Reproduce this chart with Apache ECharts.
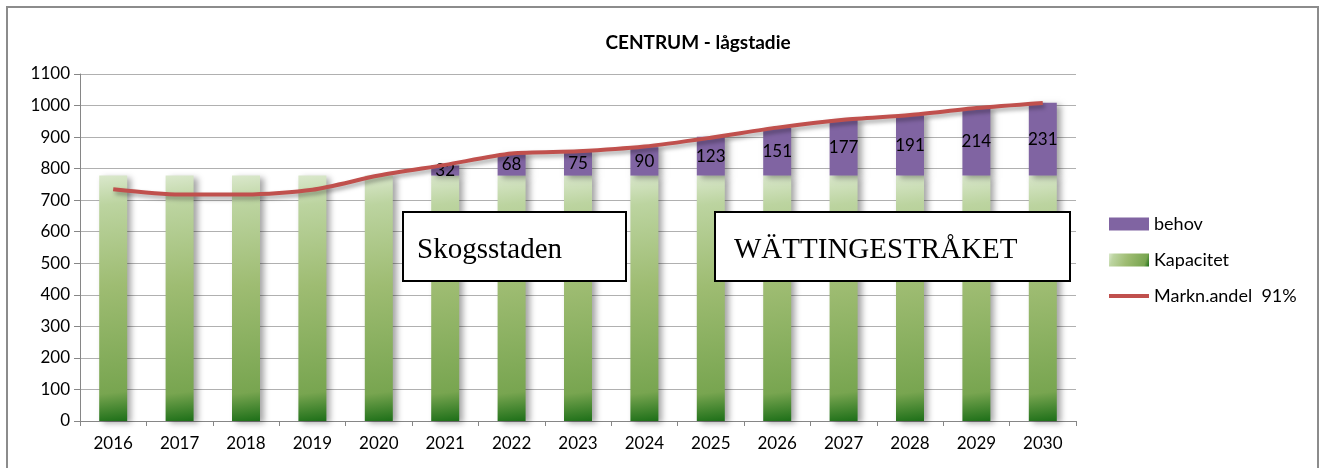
<!DOCTYPE html>
<html>
<head>
<meta charset="utf-8">
<script src="https://cdn.jsdelivr.net/npm/echarts@6/dist/echarts.min.js"></script>
<style>
html, body { margin: 0; padding: 0; background: #fff; }
#main { width: 1327px; height: 468px; }
</style>
</head>
<body>
<div id="main"></div>
<script>
// data
var years = ['2016', '2017', '2018', '2019', '2020', '2021', '2022', '2023', '2024', '2025', '2026', '2027', '2028', '2029', '2030'];
var kapacitet = [778, 778, 778, 778, 778, 778, 778, 778, 778, 778, 778, 778, 778, 778, 778];
var behov = [null, null, null, null, null, 32, 68, 75, 90, 123, 151, 177, 191, 214, 231];
var marknAndel = [735, 718, 718, 733, 778, 812, 848, 855, 870, 898, 930, 955, 970, 992, 1008];
var yTicks = { min: 0, max: 1100, interval: 100 };

var chart = echarts.init(document.getElementById('main'));

var font = 'Lato, "Open Sans", sans-serif';
var serif = '"Liberation Serif", "DejaVu Serif", serif';
var greenFill = new echarts.graphic.LinearGradient(0, 0, 1, 1, [
    {offset: 0, color: '#dae8cc'},
    {offset: 0.12, color: '#bcd4a0'},
    {offset: 0.45, color: '#9ebc72'},
    {offset: 0.88, color: '#78a550'},
    {offset: 1, color: '#1d6f18'}
]);
var barShadow = {
    shadowColor: 'rgba(0,0,0,0.35)',
    shadowBlur: 6,
    shadowOffsetX: 4,
    shadowOffsetY: 2
};

chart.setOption({
    animation: false,
    title: {
        text: 'CENTRUM - lågstadie',
        left: 693,
        textAlign: 'center',
        top: 28,
        textStyle: {fontFamily: font, fontSize: 19, fontWeight: 'bold', color: '#000'}
    },
    grid: {left: 80, right: 251, top: 74, bottom: 47},
    legend: {
        orient: 'vertical',
        left: 1102,
        top: 210,
        itemWidth: 40,
        itemHeight: 13,
        itemGap: 18,
        data: [
            {name: 'behov', icon: 'rect'},
            {name: 'Kapacitet', icon: 'rect'},
            {name: 'Markn.andel  91%', itemStyle: {opacity: 0}, lineStyle: {width: 4}}
        ],
        textStyle: {fontFamily: font, fontSize: 18, color: '#000'}
    },
    xAxis: {
        type: 'category',
        data: years,
        axisLine: {lineStyle: {color: '#868686', width: 1}},
        axisTick: {show: true, length: 5, lineStyle: {color: '#868686'}},
        axisLabel: {fontFamily: font, fontSize: 17, color: '#000', margin: 14}
    },
    yAxis: {
        type: 'value',
        min: yTicks.min,
        max: yTicks.max,
        interval: yTicks.interval,
        axisLine: {show: true, lineStyle: {color: '#868686'}},
        axisTick: {show: true, length: 6, lineStyle: {color: '#868686'}},
        splitLine: {lineStyle: {color: '#b0b0b0'}},
        axisLabel: {
            fontFamily: font, fontSize: 17, color: '#000', margin: 10,
            formatter: function(v) { return String(v); }
        }
    },
    series: [
        {
            name: 'Kapacitet',
            type: 'bar',
            stack: 'total',
            data: kapacitet,
            barWidth: 28,
            itemStyle: Object.assign({color: greenFill}, barShadow)
        },
        {
            name: 'behov',
            type: 'bar',
            stack: 'total',
            data: behov,
            barWidth: 28,
            itemStyle: Object.assign({color: '#8064a2'}, barShadow),
            label: {
                show: true,
                position: 'inside',
                fontFamily: font,
                fontSize: 17,
                color: '#000'
            }
        },
        {
            name: 'Markn.andel  91%',
            type: 'line',
            data: marknAndel,
            smooth: 0.25,
            symbol: 'none',
            z: 5,
            itemStyle: {color: '#c0504d'},
            lineStyle: {
                color: '#c0504d',
                width: 4,
                shadowColor: 'rgba(0,0,0,0.35)',
                shadowBlur: 4,
                shadowOffsetX: 2,
                shadowOffsetY: 3
            }
        }
    ],
    graphic: [
        // outer chart frame
        {
            type: 'rect', z: 100,
            shape: {x: 7, y: 7, width: 1311, height: 470},
            style: {fill: 'none', stroke: '#8c8c8c', lineWidth: 2},
            silent: true
        },
        // text boxes over the plot
        {
            type: 'rect', z: 100,
            shape: {x: 403, y: 212, width: 223, height: 69},
            style: {fill: '#fff', stroke: '#000', lineWidth: 2}
        },
        {
            type: 'text', z: 101, x: 417, y: 250,
            style: {text: 'Skogsstaden', font: '29px ' + serif, fill: '#000', verticalAlign: 'middle'}
        },
        {
            type: 'rect', z: 100,
            shape: {x: 715, y: 212, width: 355, height: 69},
            style: {fill: '#fff', stroke: '#000', lineWidth: 2}
        },
        {
            type: 'text', z: 101, x: 734, y: 250,
            style: {text: 'WÄTTINGESTRÅKET', font: '29px ' + serif, fill: '#000', verticalAlign: 'middle'}
        }
    ]
});
</script>
</body>
</html>
